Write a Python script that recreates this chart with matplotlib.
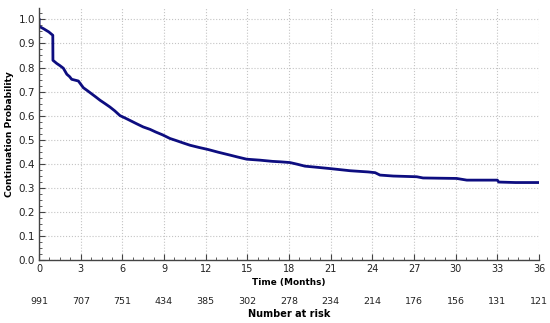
import numpy as np
import matplotlib.pyplot as plt
from matplotlib.ticker import MultipleLocator
import matplotlib.transforms as mtransforms

# Kaplan-Meier style continuation curve
time = [0, 0.0, 0.1, 0.3, 0.5, 0.7, 0.99, 1.0, 1.27, 1.5, 1.75, 2.0, 2.2, 2.35, 2.83,
        3.19, 3.5, 3.8, 4.1, 4.39, 4.75, 5.1, 5.45, 5.83, 6.2, 6.55, 7.0, 7.5, 7.99,
        8.4, 8.9, 9.43, 9.9, 10.4, 10.87, 11.5, 12.19, 12.9, 13.75, 14.3, 14.95,
        15.9, 16.8, 17.4, 18.07, 18.6, 19.15, 19.9, 20.95, 21.6, 22.4, 23.7, 24.2,
        24.55, 25.5, 27.2, 27.65, 28.8, 30.07, 30.8, 33.0, 33.1, 34.3, 36.0]
prob = [1.0, 0.972, 0.968, 0.962, 0.955, 0.948, 0.934, 0.83, 0.817, 0.808, 0.797, 0.772,
        0.762, 0.751, 0.744, 0.716, 0.703, 0.69, 0.677, 0.664, 0.65, 0.636, 0.62,
        0.60, 0.59, 0.58, 0.567, 0.553, 0.543, 0.532, 0.52, 0.505, 0.496, 0.486,
        0.477, 0.468, 0.459, 0.448, 0.436, 0.428, 0.419, 0.415, 0.41, 0.408,
        0.405, 0.398, 0.39, 0.386, 0.380, 0.376, 0.371, 0.366, 0.363, 0.353, 0.349,
        0.346, 0.341, 0.340, 0.339, 0.332, 0.332, 0.324, 0.322, 0.322]

risk_times = [0, 3, 6, 9, 12, 15, 18, 21, 24, 27, 30, 33, 36]
at_risk = [991, 707, 751, 434, 385, 302, 278, 234, 214, 176, 156, 131, 121]

fig = plt.figure(figsize=(5.5, 3.23), dpi=100)
ax = fig.add_axes([0.071, 0.195, 0.909, 0.78])

ax.plot(time, prob, color='#0d0d80', lw=2.0, solid_joinstyle='round')

ax.set_xlim(0, 36)
ax.set_ylim(0, 1.047)
ax.xaxis.set_major_locator(MultipleLocator(3))
ax.xaxis.set_minor_locator(MultipleLocator(0.75))
ax.yaxis.set_minor_locator(MultipleLocator(0.025))
ax.set_yticks(np.arange(0, 1.01, 0.1))
ax.set_yticklabels([f'{v:.1f}' for v in np.arange(0, 1.01, 0.1)])

for s in ['top', 'right']:
    ax.spines[s].set_visible(False)
for s in ['left', 'bottom']:
    ax.spines[s].set_color('#444444')
    ax.spines[s].set_linewidth(1.0)

ax.tick_params(which='major', direction='in', length=4, width=0.8, colors='#444444',
               labelcolor='#222222', pad=3)
ax.tick_params(axis='y', labelsize=7.5)
ax.tick_params(axis='x', labelsize=7)
ax.tick_params(which='minor', direction='in', length=2, width=0.6, colors='#444444')
ax.grid(True, which='major', ls=':', color='#c4c4c4', lw=0.8)

ax.set_ylabel('Continuation Probability', fontsize=6.6, fontweight='bold', labelpad=3)
ax.set_xlabel('Time (Months)', fontsize=6.4, fontweight='bold', labelpad=3)

trans = mtransforms.blended_transform_factory(ax.transData, ax.transAxes)
for t, n in zip(risk_times, at_risk):
    ax.text(t, -0.163, str(n), transform=trans, ha='center', va='center',
            fontsize=6.8, color='#222222', clip_on=False)
ax.text(0.5, -0.215, 'Number at risk', transform=ax.transAxes, ha='center', va='center',
        fontsize=7, fontweight='bold', clip_on=False)

fig.savefig('out.png', dpi=100)
